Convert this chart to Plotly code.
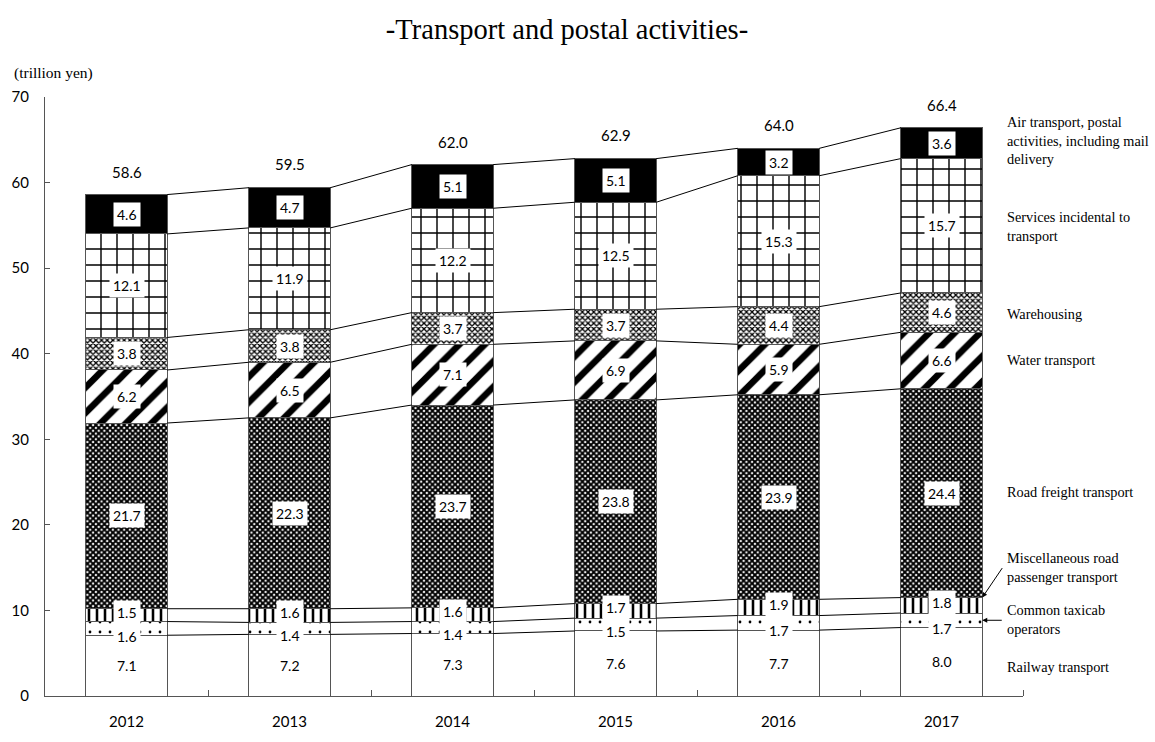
import plotly.graph_objects as go
import numpy as np

years = ["2012", "2013", "2014", "2015", "2016", "2017"]
railway = [7.1, 7.2, 7.3, 7.6, 7.7, 8.0]
taxicab = [1.6, 1.4, 1.4, 1.5, 1.7, 1.7]
misc_road = [1.5, 1.6, 1.6, 1.7, 1.9, 1.8]
road_freight = [21.7, 22.3, 23.7, 23.8, 23.9, 24.4]
water = [6.2, 6.5, 7.1, 6.9, 5.9, 6.6]
warehousing = [3.8, 3.8, 3.7, 3.7, 4.4, 4.6]
services = [12.1, 11.9, 12.2, 12.5, 15.3, 15.7]
air_postal = [4.6, 4.7, 5.1, 5.1, 3.2, 3.6]
totals = [58.6, 59.5, 62.0, 62.9, 64.0, 66.4]

series_names = [
    "Railway transport",
    "Common taxicab<br>operators",
    "Miscellaneous road<br>passenger transport",
    "Road freight transport",
    "Water transport",
    "Warehousing",
    "Services incidental to<br>transport",
    "Air transport, postal<br>activities, including mail<br>delivery",
]
series_vals = [railway, taxicab, misc_road, road_freight, water, warehousing, services, air_postal]

patterns = [
    dict(shape=""),
    dict(shape=".", size=10, solidity=0.06),
    dict(shape="|", size=8, solidity=0.32),
    dict(shape="x", size=4, solidity=0.72),
    dict(shape="/", size=18, solidity=0.36),
    dict(shape="x", size=4, solidity=0.55),
    dict(shape="+", size=16, solidity=0.17),
    dict(shape=""),
]
base_colors = ["white", "white", "white", "white", "white", "white", "white", "black"]

SERIF = "Liberation Serif, Times New Roman, serif"
SANS = "Lato, Carlito, Liberation Sans, sans-serif"

xs = np.arange(len(years))
bw = 0.5

fig = go.Figure()
for name, vals, pat, col in zip(series_names, series_vals, patterns, base_colors):
    p = dict(pat)
    if p["shape"]:
        p.update(fgcolor="black", bgcolor="white", fillmode="replace")
    fig.add_trace(go.Bar(
        x=xs, y=vals, width=bw, name=name.replace("<br>", " "),
        marker=dict(color=col, line=dict(color="#555555", width=1), pattern=p),
        showlegend=False, hoverinfo="skip",
    ))

cum = np.cumsum(np.array(series_vals), axis=0)
bases = cum - np.array(series_vals)

# series connecting lines
for k in range(len(series_vals)):
    lx, ly = [], []
    for i in range(len(years) - 1):
        lx += [xs[i] + bw / 2, xs[i + 1] - bw / 2, None]
        ly += [cum[k][i], cum[k][i + 1], None]
    fig.add_trace(go.Scatter(x=lx, y=ly, mode="lines", line=dict(color="black", width=1),
                             showlegend=False, hoverinfo="skip"))

annotations = []
for k, vals in enumerate(series_vals):
    for i, v in enumerate(vals):
        if k == 1:
            yy = bases[k][i] - 0.1
        elif k == 2:
            yy = bases[k][i] + v / 2 + 0.35
        else:
            yy = bases[k][i] + v / 2
        annotations.append(dict(
            x=xs[i], y=yy, xref="x", yref="y", text=f"{v:.1f}", showarrow=False,
            font=dict(family=SANS, size=14, color="black"),
            bgcolor="white", borderpad=3,
        ))
for i, t in enumerate(totals):
    annotations.append(dict(
        x=xs[i], y=t, xref="x", yref="y", text=f"{t:.1f}", showarrow=False,
        yanchor="bottom", yshift=12, font=dict(family=SANS, size=15, color="black"),
    ))

def py(ypx):
    return (708 - ypx) / 611.0

def px(xpx):
    return (xpx - 43) / 980.0

label_y = [678, 630, 577, 500, 365, 318, 229, 141]
for name, ypx in zip(series_names, label_y):
    annotations.append(dict(
        x=px(1005), y=py(ypx), xref="paper", yref="paper", text=name, showarrow=False,
        xanchor="left", yanchor="middle", align="left",
        font=dict(family=SERIF, size=14.3, color="black"),
    ))

last = len(years) - 1
annotations.append(dict(
    x=xs[last] + bw / 2, y=cum[2][last], xref="x", yref="y", text="",
    showarrow=True, arrowhead=2, arrowsize=1, arrowwidth=1, arrowcolor="black",
    ax=21, ay=-31,
))
annotations.append(dict(
    x=xs[last] + bw / 2, y=bases[1][last] + taxicab[last] / 2, xref="x", yref="y", text="",
    showarrow=True, arrowhead=2, arrowsize=1, arrowwidth=1, arrowcolor="black",
    ax=21, ay=0,
))
annotations.append(dict(
    x=px(10), y=py(73), xref="paper", yref="paper", text="(trillion yen)",
    showarrow=False, xanchor="left", yanchor="middle",
    font=dict(family=SERIF, size=15.5, color="black"),
))

fig.update_layout(
    width=1155, height=742,
    margin=dict(l=43, r=132, t=97, b=34),
    paper_bgcolor="white", plot_bgcolor="white",
    barmode="stack",
    title=dict(text="-Transport and postal activities-", x=567 / 1155, xanchor="center",
               y=1 - 29 / 742, yanchor="middle", xref="container", yref="container",
               font=dict(family=SERIF, size=28.5, color="black")),
    xaxis=dict(
        range=[-0.5, 5.5], tickvals=list(xs), ticktext=years, ticks="",
        showline=True, linecolor="#555555", linewidth=1, showgrid=False, zeroline=False,
        tickfont=dict(family=SANS, size=15, color="black"), ticklabelstandoff=12,
        minor=dict(tickvals=[i + 0.5 for i in range(len(years))], ticks="inside",
                   ticklen=6, tickcolor="#555555", showgrid=False),
    ),
    yaxis=dict(
        range=[0, 70], dtick=10, ticks="inside", ticklen=5, tickcolor="#555555",
        showline=True, linecolor="#555555", linewidth=1, showgrid=False, zeroline=False,
        tickfont=dict(family=SANS, size=15, color="black"), ticklabelstandoff=12,
    ),
    annotations=annotations,
)

fig.write_html(
    "out.html",
    config={"displayModeBar": False},
    post_script=(
        "document.body.style.margin='0px';"
        "document.body.style.overflow='hidden';"
        "document.documentElement.style.overflow='hidden';"
    ),
)
